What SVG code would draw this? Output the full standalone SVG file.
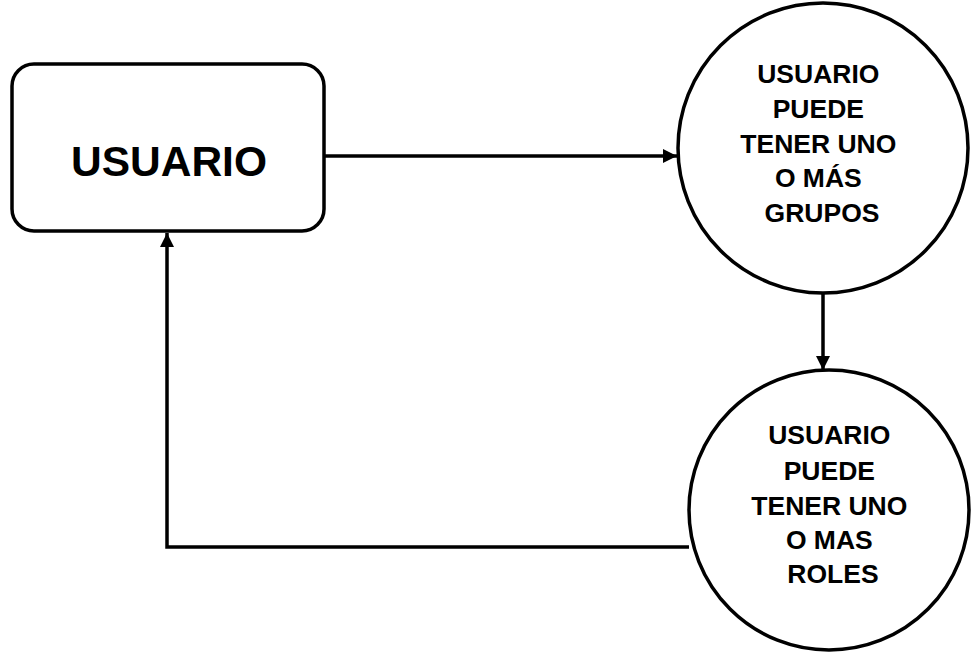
<svg xmlns="http://www.w3.org/2000/svg" width="971" height="652" viewBox="0 0 971 652">
<style>
.shape{fill:#fff;stroke:#000;stroke-width:3.5}
.t{font-family:"Liberation Sans",Arial,sans-serif;font-weight:bold;fill:#000;text-anchor:middle}
.c{fill:none;stroke:#000;stroke-width:3.5}
</style>
<defs>
<marker id="ah" viewBox="0 0 10 10" refX="10" refY="5" markerWidth="4" markerHeight="4" orient="auto" markerUnits="strokeWidth">
<path d="M0,0 L10,5 L0,10 z" fill="#000"/>
</marker>
</defs>
<rect width="971" height="652" fill="#fff"/>
<g id="connectors">
<path class="c" d="M324,156 L677,156" marker-end="url(#ah)"/>
<path class="c" d="M823,292 L823,370" marker-end="url(#ah)"/>
<path class="c" d="M689,547 L167,547 L167,233" marker-end="url(#ah)"/>
</g>
<g id="usuario">
<rect class="shape" x="12" y="64" width="312" height="167" rx="22"/>
<text class="t" x="169" y="176" font-size="42.5">USUARIO</text>
</g>
<g id="grupos">
<circle class="shape" cx="823" cy="148" r="145"/>
<text class="t" font-size="26.5" x="822">
<tspan x="822" y="83">USUARIO</tspan>
<tspan x="822" y="118">PUEDE</tspan>
<tspan x="822" y="153">TENER UNO</tspan>
<tspan x="822" y="187">O MÁS</tspan>
<tspan x="822" y="222">GRUPOS</tspan>
</text>
</g>
<g id="roles">
<circle class="shape" cx="829" cy="510" r="140"/>
<text class="t" font-size="26.5" x="833">
<tspan x="833" y="444">USUARIO</tspan>
<tspan x="833" y="480">PUEDE</tspan>
<tspan x="833" y="515">TENER UNO</tspan>
<tspan x="833" y="549">O MAS</tspan>
<tspan x="833" y="583">ROLES</tspan>
</text>
</g>
</svg>
